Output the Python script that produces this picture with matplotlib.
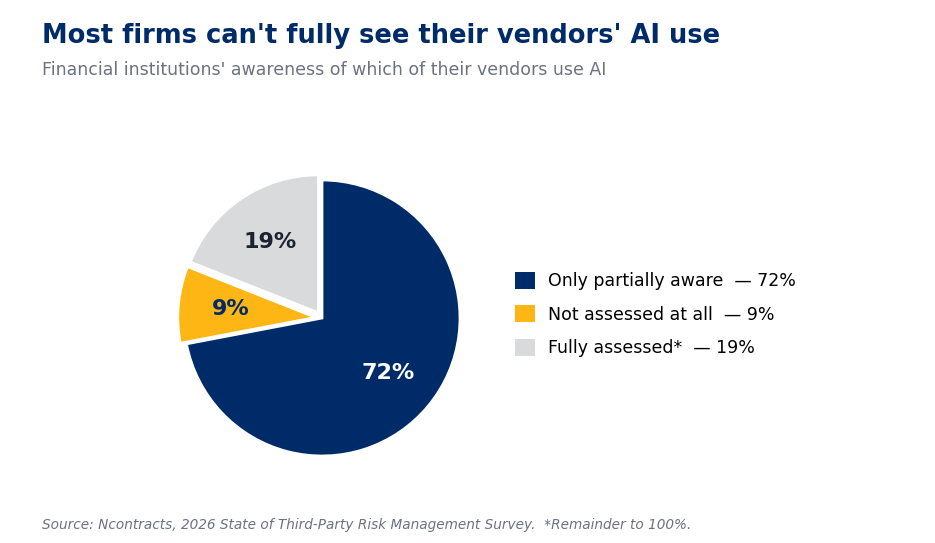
import matplotlib
matplotlib.use("Agg")
import matplotlib.pyplot as plt
from matplotlib.patches import Patch
import numpy as np

labels = ["Only partially aware", "Not assessed at all", "Fully assessed*"]
values = [72, 9, 19]
colors = ["#002B69", "#FDB614", "#D9DADC"]
label_colors = ["white", "#002B69", "#1B2333"]
explode = [0.0, 0.045, 0.045]

title = "Most firms can't fully see their vendors' AI use"
subtitle = "Financial institutions' awareness of which of their vendors use AI"
footer = "Source: Ncontracts, 2026 State of Third-Party Risk Management Survey.  *Remainder to 100%."

W, H = 935, 543
fig = plt.figure(figsize=(W / 100, H / 100), dpi=100)
fig.patch.set_facecolor("white")

cx, cy, r = 322, 318, 138
half = 1.1 * r
ax = fig.add_axes([(cx - half) / W, (H - cy - half) / H, 2 * half / W, 2 * half / H])
wedges, texts, autotexts = ax.pie(
    values, colors=colors, startangle=90, counterclock=False, explode=explode,
    autopct=lambda p: f"{p:.0f}%", pctdistance=0.62,
    wedgeprops=dict(edgecolor="white", linewidth=2),
    textprops=dict(fontsize=16, fontweight="bold"),
)
for t, c in zip(autotexts, label_colors):
    t.set_color(c)
ax.set_xlim(-1.1, 1.1)
ax.set_ylim(-1.1, 1.1)
ax.set_aspect("equal")
ax.axis("off")

handles = [Patch(facecolor=c, edgecolor="none") for c in colors]
leg_labels = [f"{l}  — {v}%" for l, v in zip(labels, values)]
fig.legend(handles, leg_labels, loc="center left", bbox_to_anchor=(499 / W, (H - 314.5) / H),
           frameon=False, fontsize=12.5, handlelength=1.15, handleheight=1.15,
           handletextpad=0.8, labelspacing=0.86)

fig.text(42 / W, 1 - 36 / H, title, fontsize=18.5, fontweight="bold", color="#002B69", va="center")
fig.text(42 / W, 1 - 70 / H, subtitle, fontsize=12.5, color="#6B7280", va="center")
fig.text(42 / W, 1 - 525 / H, footer, fontsize=9.8, style="italic", color="#6B7280", va="center")

fig.savefig("out.png", dpi=100, facecolor="white")
